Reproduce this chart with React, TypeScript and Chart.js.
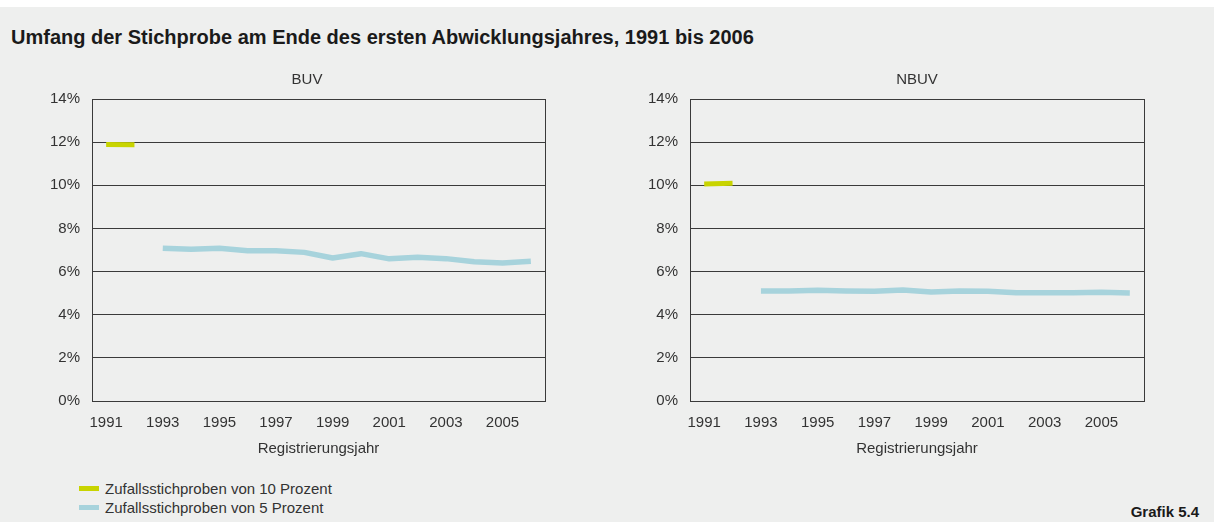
import React, { useEffect, useRef } from "react";
import { Chart, registerables } from "chart.js";

Chart.register(...registerables);

const YEARS = ["1991", "1992", "1993", "1994", "1995", "1996", "1997", "1998", "1999", "2000", "2001", "2002", "2003", "2004", "2005", "2006"];
const BUV_10 = [11.89, 11.88, null, null, null, null, null, null, null, null, null, null, null, null, null, null];
const BUV_5 = [null, null, 7.08, 7.03, 7.08, 6.97, 6.97, 6.89, 6.63, 6.83, 6.59, 6.66, 6.6, 6.46, 6.4, 6.48];
const NBUV_10 = [10.06, 10.09, null, null, null, null, null, null, null, null, null, null, null, null, null, null];
const NBUV_5 = [null, null, 5.1, 5.1, 5.13, 5.1, 5.09, 5.15, 5.05, 5.1, 5.09, 5.02, 5.02, 5.02, 5.04, 5.01];
const Y_MIN = 0;
const Y_MAX = 14;
const Y_STEP = 2;

const TITLE = "Umfang der Stichprobe am Ende des ersten Abwicklungsjahres, 1991 bis 2006";
const LEGEND_10 = "Zufallsstichproben von 10 Prozent";
const LEGEND_5 = "Zufallsstichproben von 5 Prozent";
const X_TITLE = "Registrierungsjahr";
const SOURCE = "Grafik 5.4";

const GREEN = "#c8d400";
const BLUE = "#a7d3dc";
const BG = "#eeefee";
const GRID = "#3a3a3a";
const TEXT = "#333333";
const FONT = "'Liberation Sans', Arial, Helvetica, sans-serif";

type PanelProps = {
  title: string;
  s10: (number | null)[];
  s5: (number | null)[];
  left: number;
  width: number;
  yWidth: number;
  y2Width: number;
};

function Panel({ title, s10, s5, left, width, yWidth, y2Width }: PanelProps) {
  const ref = useRef<HTMLCanvasElement | null>(null);
  useEffect(() => {
    if (!ref.current) return;
    const font = { family: FONT, size: 15, weight: "normal" as const, lineHeight: 1.2 };
    const chart = new Chart(ref.current, {
      type: "line",
      data: {
        labels: YEARS,
        datasets: [
          {
            label: LEGEND_10,
            data: s10,
            borderColor: GREEN,
            backgroundColor: GREEN,
            borderWidth: 5,
            pointRadius: 0,
            spanGaps: false,
            borderCapStyle: "butt",
            borderJoinStyle: "round",
            tension: 0,
          },
          {
            label: LEGEND_5,
            data: s5,
            borderColor: BLUE,
            backgroundColor: BLUE,
            borderWidth: 5.5,
            pointRadius: 0,
            spanGaps: false,
            borderCapStyle: "butt",
            borderJoinStyle: "round",
            tension: 0,
          },
        ],
      },
      options: {
        responsive: false,
        animation: false,
        layout: { padding: 0 },
        plugins: {
          legend: { display: false },
          tooltip: { enabled: false },
          title: {
            display: true,
            text: title,
            color: TEXT,
            font,
            padding: { top: 11, bottom: 10 },
          },
        },
        scales: {
          x: {
            type: "category",
            offset: true,
            grid: { display: false, drawTicks: false },
            border: { display: false },
            ticks: {
              autoSkip: false,
              maxRotation: 0,
              minRotation: 0,
              padding: 13,
              color: TEXT,
              font,
              callback: (_v: any, i: number) => (i % 2 === 0 ? YEARS[i] : ""),
            },
            title: {
              display: true,
              text: X_TITLE,
              color: TEXT,
              font,
              padding: { top: 8, bottom: 0 },
            },
            afterFit: (s: any) => {
              s.height = 57;
            },
          },
          y: {
            min: Y_MIN,
            max: Y_MAX,
            ticks: {
              stepSize: Y_STEP,
              padding: 12,
              color: TEXT,
              font,
              callback: (v: any) => `${v}%`,
            },
            grid: { color: GRID, lineWidth: 1, drawTicks: false },
            border: { display: true, color: GRID, width: 1 },
            afterFit: (s: any) => {
              s.width = yWidth;
            },
          },
          y2: {
            position: "right",
            min: Y_MIN,
            max: Y_MAX,
            ticks: { display: false },
            grid: { display: false, drawTicks: false },
            border: { display: true, color: GRID, width: 1 },
            afterFit: (s: any) => {
              s.width = y2Width;
            },
          },
        },
      },
    });
    return () => chart.destroy();
  }, [title, s10, s5, yWidth, y2Width]);
  return (
    <canvas
      ref={ref}
      width={width}
      height={398}
      style={{ position: "absolute", left, top: 60, width, height: 398 }}
    />
  );
}

export default function App() {
  const textBase: React.CSSProperties = {
    position: "absolute",
    fontFamily: FONT,
    color: TEXT,
    whiteSpace: "nowrap",
  };
  return (
    <div style={{ position: "absolute", left: 0, top: 0, width: 1214, height: 522, background: "#ffffff", overflow: "hidden" }}>
      <div style={{ position: "absolute", left: 0, top: 7, width: 1214, height: 515, background: BG }} />
      <div style={{ ...textBase, left: 11, top: 26, fontSize: 20, lineHeight: "23px", fontWeight: "bold", color: "#1a1a1a" }}>{TITLE}</div>
      <Panel title="BUV" s10={BUV_10} s5={BUV_5} left={30} width={554} yWidth={62} y2Width={39} />
      <Panel title="NBUV" s10={NBUV_10} s5={NBUV_5} left={630} width={574} yWidth={60} y2Width={60} />
      <div style={{ position: "absolute", left: 79, top: 486, width: 20, height: 5, background: GREEN }} />
      <div style={{ position: "absolute", left: 79, top: 505, width: 20, height: 5, background: BLUE }} />
      <div style={{ ...textBase, left: 105, top: 480, fontSize: 15, lineHeight: "18px" }}>{LEGEND_10}</div>
      <div style={{ ...textBase, left: 105, top: 499, fontSize: 15, lineHeight: "18px" }}>{LEGEND_5}</div>
      <div style={{ ...textBase, right: 15, top: 503, fontSize: 15, lineHeight: "18px", fontWeight: "bold", color: "#1a1a1a" }}>{SOURCE}</div>
    </div>
  );
}
